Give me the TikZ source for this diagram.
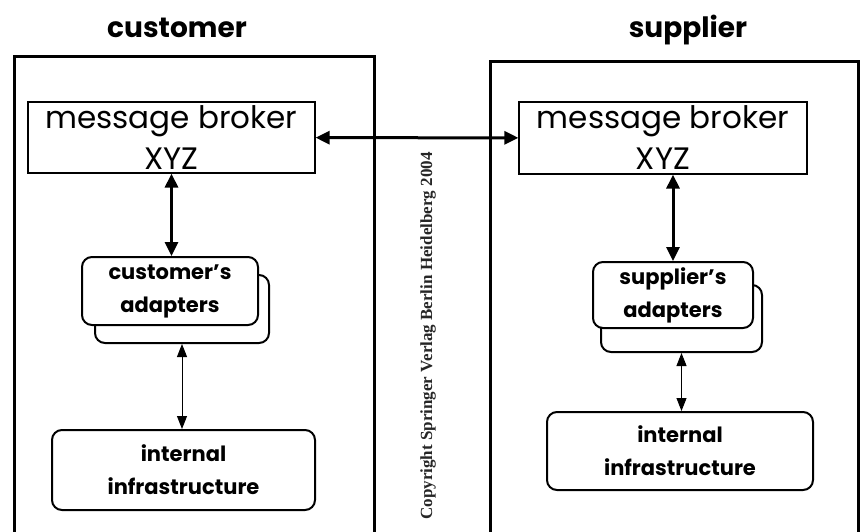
\documentclass[tikz,border=0pt]{standalone}
\usepackage{fontspec}
\setmainfont{Poppins}
\newfontfamily\copyfont{Liberation Serif}
\usetikzlibrary{arrows.meta,positioning}

\begin{document}
\begin{tikzpicture}[x=1pt,y=-1pt]
                        \tikzset{Broker/.style={%
                                shape=rectangle,%
                                draw=black,%
                                line width=1.2pt,%
                                align=center,%
                                inner sep=0pt,%
                                font=\fontsize{31}{41}\selectfont,%
                            },
                            Box/.style={%
                                shape=rectangle,%
                                rounded corners=10pt,%
                                draw=black,%
                                fill=white,%
                                line width=2pt,%
                                align=center,%
                                inner sep=0pt,%
                                font=\fontsize{21}{33}\selectfont\bfseries,%
                            },
                            Title/.style={font=\fontsize{28}{30}\selectfont\bfseries},
                            Thick/.style={<->,>={Triangle[length=14pt,width=13pt]},line width=3pt},
                            Thin/.style={<->,>={Triangle[length=13pt,width=10pt]},line width=1pt}}

                            \useasboundingbox (0,0) rectangle (860,532);

                            % customer side
                            \node[Title] (ctitle) at (177,28) {customer};
                            \draw[line width=3pt] (14,532) -- (14,57) -- (374,57) -- (374,532);
                            \node[Broker, minimum width=287pt, minimum height=71pt] (cbrk) at (171.5,137.5) {message broker\\XYZ};
                            \node[Box, minimum width=174pt, minimum height=68pt] (cadb) at (182,309) {};
                            \node[Box, minimum width=176pt, minimum height=68pt] (cad) at (170,291) {customer's\\adapters};
                            \node[Box, minimum width=263pt, minimum height=80pt] (cinf) at (183.5,470) {internal\\infrastructure};

                            % supplier side
                            \node[Title] (stitle) at (688,30) {supplier};
                            \draw[line width=3pt] (490,532) -- (490,62) -- (858,62) -- (858,532);
                            \node[Broker, minimum width=288pt, minimum height=72pt] (sbrk) at (663,138) {message broker\\XYZ};
                            \node[Box, minimum width=161pt, minimum height=67pt] (sadb) at (681.5,318.5) {};
                            \node[Box, minimum width=160pt, minimum height=66pt] (sad) at (673,295) {supplier's\\adapters};
                            \node[Box, minimum width=266pt, minimum height=78pt] (sinf) at (680,451) {internal\\infrastructure};

                            \node[rotate=90, text=black!85, font=\copyfont\fontsize{17}{19}\selectfont\bfseries] (copy) at (428,336) {Copyright Springer Verlag Berlin Heidelberg 2004};

                            \path (cbrk) edge[Thick] (sbrk);
                            \path (cbrk.south) edge[Thick] (cbrk.south |- cad.north);
                            \path (sad.north) edge[Thick] (sad.north |- sbrk.south);
                            \path (cadb.south) edge[Thin] (cadb.south |- cinf.north);
                            \path (sadb.south) edge[Thin] (sadb.south |- sinf.north);
                    \end{tikzpicture}
\end{document}
